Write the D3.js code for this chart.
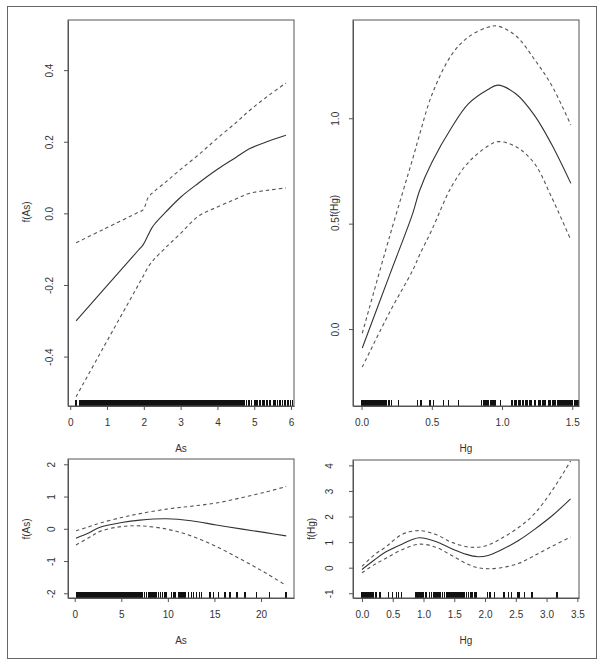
<!DOCTYPE html>
<html>
<head>
<meta charset="utf-8">
<script src="https://cdn.jsdelivr.net/npm/d3@7"></script>
<style>
  body { margin: 0; background: #fff; }
  svg { display: block; }
  text { font-family: "Liberation Sans", Arial, sans-serif; font-size: 10px; fill: #333; }
</style>
</head>
<body>
<div id="chart"></div>
<script>
// ---- top left: f(As), As 0..6 ----
var tlX     = [0.16, 0.9, 1.85, 1.98, 2.12, 2.21, 2.30, 2.6, 3.0, 3.48, 4.0, 4.5, 4.88, 5.4, 5.86];
var tlFit   = [-0.300, -0.214, -0.103, -0.088, -0.060, -0.042, -0.029, 0.004, 0.045, 0.084, 0.123, 0.156, 0.181, 0.202, 0.218];
var tlUpper = [-0.082, -0.045, 0.003, 0.010, 0.045, 0.055, 0.063, 0.088, 0.123, 0.163, 0.210, 0.253, 0.288, 0.330, 0.364];
var tlLower = [-0.512, -0.375, -0.200, -0.176, -0.149, -0.137, -0.126, -0.095, -0.056, -0.008, 0.018, 0.040, 0.056, 0.065, 0.071];
var tlRug = [0.16, 0.27,0.30,0.33,0.37,0.40,0.43,0.47,0.50,0.53,0.57,0.60,0.63,0.67,0.70,0.73,0.77,0.80,0.83,0.87,0.90,0.93,0.97,
  1.00,1.03,1.07,1.10,1.13,1.17,1.20,1.23,1.27,1.30,1.33,1.37,1.40,1.43,1.47,1.50,1.53,1.57,1.60,1.63,1.67,1.70,1.73,1.77,1.80,1.83,1.87,1.90,1.93,1.97,
  2.00,2.03,2.07,2.10,2.13,2.17,2.20,2.23,2.27,2.30,2.33,2.37,2.40,2.43,2.47,2.50,2.53,2.57,2.60,2.63,2.67,2.70,2.73,2.77,2.80,2.83,2.87,2.90,2.93,2.97,
  3.00,3.03,3.07,3.10,3.13,3.17,3.20,3.23,3.27,3.30,3.33,3.37,3.40,3.43,3.47,3.50,3.53,3.57,3.60,3.63,3.67,3.70,3.73,3.77,3.80,3.83,3.87,3.90,3.93,3.97,
  4.00,4.03,4.07,4.10,4.13,4.17,4.20,4.23,4.27,4.30,4.33,4.37,4.40,4.43,4.47,4.50,4.53,4.57,4.60,4.63,4.67,4.70,
  4.74,4.79,4.86,4.93,5.02,5.07,5.15,5.23,5.26,5.34,5.43,5.52,5.56,5.63,5.70,5.77,5.83,5.92,5.99,6.04];
var tlXTicks = [0, 1, 2, 3, 4, 5, 6];
var tlXLabels = ["0", "1", "2", "3", "4", "5", "6"];
var tlYTicks = [-0.4, -0.2, 0.0, 0.2, 0.4];
var tlYLabels = ["-0.4", "-0.2", "0.0", "0.2", "0.4"];

// ---- top right: f(Hg), Hg 0..1.5 ----
var trX     = [0.005, 0.2, 0.365, 0.412, 0.5, 0.64, 0.76, 0.9, 0.97, 1.1, 1.23, 1.35, 1.49];
var trFit   = [-0.09, 0.257, 0.55, 0.655, 0.79, 0.955, 1.068, 1.136, 1.157, 1.115, 1.015, 0.88, 0.691];
var trUpper = [-0.02, 0.44, 0.81, 0.92, 1.11, 1.30, 1.385, 1.432, 1.437, 1.39, 1.28, 1.16, 0.968];
var trLower = [-0.18, 0.08, 0.28, 0.35, 0.47, 0.675, 0.79, 0.868, 0.889, 0.865, 0.786, 0.63, 0.422];
var trRug = [0.000,0.007,0.014,0.021,0.028,0.035,0.042,0.049,0.056,0.063,0.070,0.077,0.084,0.091,0.098,0.105,0.112,0.119,0.126,0.133,
  0.145,0.156,0.167,0.178,0.197,0.213,0.263,0.398,0.422,0.488,0.511,0.583,0.618,0.689,0.855,0.870,0.885,0.900,
  0.921,0.928,0.935,0.942,0.949,0.990,
  1.07,1.09,1.10,1.12,1.13,1.15,1.17,1.18,1.20,1.21,1.23,1.24,1.26,1.27,1.29,1.30,1.31,1.33,1.34,1.36,1.37,1.38,1.40,1.41,1.42,
  1.43,1.435,1.44,1.45,1.455,1.46,1.465,1.47,1.475,1.48,1.49,1.50,1.52,1.53,1.54];
var trXTicks = [0.0, 0.5, 1.0, 1.5];
var trXLabels = ["0.0", "0.5", "1.0", "1.5"];
var trYTicks = [0.0, 0.5, 1.0];
var trYLabels = ["0.0", "0.5", "1.0"];

// ---- bottom left: f(As), As 0..23 ----
var blX     = [0.14, 1.5, 2.72, 5.04, 7.0, 9.88, 12.5, 15.2, 18.0, 20.5, 22.7];
var blFit   = [-0.29, -0.13, 0.05, 0.195, 0.27, 0.31, 0.25, 0.12, -0.01, -0.12, -0.22];
var blUpper = [-0.06, 0.06, 0.18, 0.35, 0.47, 0.61, 0.70, 0.80, 0.97, 1.14, 1.31];
var blLower = [-0.50, -0.28, -0.08, 0.07, 0.09, -0.01, -0.22, -0.55, -0.97, -1.37, -1.76];
var blRug = [0.20,0.31,0.42,0.53,0.64,0.75,0.86,0.97,1.08,1.19,1.30,1.41,1.52,1.63,1.74,1.85,1.96,2.07,2.18,2.29,2.40,2.51,2.62,2.73,
  2.84,2.95,3.06,3.17,3.28,3.39,3.50,3.61,3.72,3.83,3.94,4.05,4.16,4.27,4.38,4.49,4.60,4.71,4.82,4.93,5.04,5.15,5.26,5.37,5.48,
  5.59,5.70,5.81,5.92,6.03,6.14,6.25,6.36,6.47,6.58,6.69,6.80,6.91,7.02,
  7.1,7.3,7.5,7.7,7.9,8.1,8.3,8.5,8.7,8.98,9.23,9.45,9.69,9.88,10.41,10.59,10.77,11.12,11.3,11.5,11.66,11.85,
  12.2,12.56,12.74,13.1,13.38,13.63,14.5,14.88,15.42,16.14,16.67,17.4,18.3,19.54,20.9,22.7];
var blXTicks = [0, 5, 10, 15, 20];
var blXLabels = ["0", "5", "10", "15", "20"];
var blYTicks = [-2, -1, 0, 1, 2];
var blYLabels = ["-2", "-1", "0", "1", "2"];

// ---- bottom right: f(Hg), Hg 0..3.5 ----
var brX     = [0.0, 0.2, 0.39, 0.65, 0.93, 1.2, 1.45, 1.7, 1.88, 2.05, 2.26, 2.55, 2.8, 3.1, 3.39];
var brFit   = [-0.07, 0.30, 0.62, 0.92, 1.17, 1.02, 0.75, 0.52, 0.43, 0.48, 0.69, 1.07, 1.49, 2.05, 2.69];
var brUpper = [0.05, 0.50, 0.82, 1.30, 1.45, 1.30, 1.00, 0.82, 0.80, 0.88, 1.14, 1.58, 2.10, 3.05, 4.17];
var brLower = [-0.20, 0.12, 0.37, 0.70, 0.92, 0.80, 0.49, 0.16, 0.00, -0.04, 0.00, 0.17, 0.47, 0.85, 1.20];
var brRug = [0.000,0.016,0.032,0.048,0.064,0.080,0.096,0.112,0.128,0.144,0.160,0.176,
  0.23,0.29,0.43,0.50,0.56,0.59,0.64,0.88,0.90,0.92,0.94,0.96,0.99,1.04,
  1.10,1.13,1.16,1.19,1.22,1.25,1.28,1.31,1.34,1.37,1.40,1.42,1.44,1.46,1.48,1.50,1.52,1.54,1.56,1.58,
  1.61,1.64,1.67,1.70,1.73,1.76,1.79,1.83,1.85,
  2.04,2.08,2.15,2.31,2.38,2.43,2.53,2.55,2.64,2.76,3.17];
var brXTicks = [0.0, 0.5, 1.0, 1.5, 2.0, 2.5, 3.0, 3.5];
var brXLabels = ["0.0", "0.5", "1.0", "1.5", "2.0", "2.5", "3.0", "3.5"];
var brYTicks = [-1, 0, 1, 2, 3, 4];
var brYLabels = ["-1", "0", "1", "2", "3", "4"];

var svg = d3.select("#chart")
  .append("svg")
  .attr("width", 602)
  .attr("height", 665);

// outer frame
svg.append("rect")
  .attr("x", 7.5).attr("y", 6.5)
  .attr("width", 589).attr("height", 652)
  .attr("fill", "none")
  .attr("stroke", "#666");

function drawPanel(p) {
  var x = d3.scaleLinear().domain(p.xDomain).range([p.left, p.right]);
  var y = d3.scaleLinear().domain(p.yDomain).range([p.bottom, p.top]);
  var g = svg.append("g");

  var line = d3.line()
    .x((d, i) => x(p.xs[i]))
    .y(d => y(d))
    .curve(d3.curveCatmullRom.alpha(0.5));

  g.append("path").attr("d", line(p.fit))
    .attr("fill", "none").attr("stroke", "#333").attr("stroke-width", 1.1);
  [p.upper, p.lower].forEach(function(s) {
    g.append("path").attr("d", line(s))
      .attr("fill", "none").attr("stroke", "#555").attr("stroke-width", 1.1)
      .attr("stroke-dasharray", "3.5,3");
  });

  // rug along the bottom edge
  g.append("g")
    .attr("shape-rendering", "crispEdges")
    .selectAll("line")
    .data(p.rug)
    .enter()
    .append("line")
    .attr("x1", d => x(d)).attr("x2", d => x(d))
    .attr("y1", p.bottom).attr("y2", p.bottom - 6)
    .attr("stroke", "#111")
    .attr("stroke-width", 1.5);

  // box
  g.append("rect")
    .attr("x", p.left).attr("y", p.top)
    .attr("width", p.right - p.left).attr("height", p.bottom - p.top)
    .attr("fill", "none").attr("stroke", "#555");

  var xAxis = d3.axisBottom(x)
    .tickValues(p.xTicks)
    .tickFormat((d, i) => p.xLabels[i])
    .tickSize(4).tickPadding(9).tickSizeOuter(0);
  g.append("g")
    .attr("transform", `translate(0, ${p.bottom})`)
    .style("color", "#555")
    .call(xAxis);

  var yAxis = d3.axisLeft(y)
    .tickValues(p.yTicks)
    .tickFormat((d, i) => p.yLabels[i])
    .tickSize(4).tickSizeOuter(0);
  var ya = g.append("g")
    .attr("transform", `translate(${p.left}, 0)`)
    .style("color", "#555")
    .call(yAxis);
  ya.selectAll(".tick text")
    .attr("x", null).attr("dy", null)
    .attr("text-anchor", "middle")
    .attr("dominant-baseline", "central")
    .attr("transform", `translate(${p.tickLabelX - p.left}, 0) rotate(-90)`);

  g.append("text")
    .attr("x", (p.left + p.right) / 2)
    .attr("y", p.bottom + 42)
    .attr("text-anchor", "middle")
    .attr("dominant-baseline", "central")
    .text(p.xTitle);

  g.append("text")
    .attr("transform", `translate(${p.yTitleX}, ${p.yTitleY}) rotate(-90)`)
    .attr("text-anchor", "middle")
    .attr("dominant-baseline", "central")
    .text(p.yTitle);
}

drawPanel({
  left: 68, right: 294, top: 20, bottom: 406,
  xDomain: [-0.06, 6.08], yDomain: [-0.538, 0.54],
  xs: tlX, fit: tlFit, upper: tlUpper, lower: tlLower, rug: tlRug,
  xTicks: tlXTicks, xLabels: tlXLabels, yTicks: tlYTicks, yLabels: tlYLabels,
  tickLabelX: 49, yTitleX: 26, yTitleY: 212, xTitle: "As", yTitle: "f(As)"
});

drawPanel({
  left: 353, right: 579, top: 20, bottom: 406,
  xDomain: [-0.061, 1.548], yDomain: [-0.365, 1.466],
  xs: trX, fit: trFit, upper: trUpper, lower: trLower, rug: trRug,
  xTicks: trXTicks, xLabels: trXLabels, yTicks: trYTicks, yLabels: trYLabels,
  tickLabelX: 335, yTitleX: 334, yTitleY: 206, xTitle: "Hg", yTitle: "f(Hg)"
});

drawPanel({
  left: 68, right: 294, top: 459, bottom: 598,
  xDomain: [-0.72, 23.54], yDomain: [-2.146, 2.164],
  xs: blX, fit: blFit, upper: blUpper, lower: blLower, rug: blRug,
  xTicks: blXTicks, xLabels: blXLabels, yTicks: blYTicks, yLabels: blYLabels,
  tickLabelX: 51.5, yTitleX: 26, yTitleY: 529, xTitle: "As", yTitle: "f(As)"
});

drawPanel({
  left: 353, right: 579, top: 460, bottom: 598,
  xDomain: [-0.146, 3.527], yDomain: [-1.185, 4.21],
  xs: brX, fit: brFit, upper: brUpper, lower: brLower, rug: brRug,
  xTicks: brXTicks, xLabels: brXLabels, yTicks: brYTicks, yLabels: brYLabels,
  tickLabelX: 329.5, yTitleX: 311, yTitleY: 529, xTitle: "Hg", yTitle: "f(Hg)"
});
</script>
</body>
</html>
